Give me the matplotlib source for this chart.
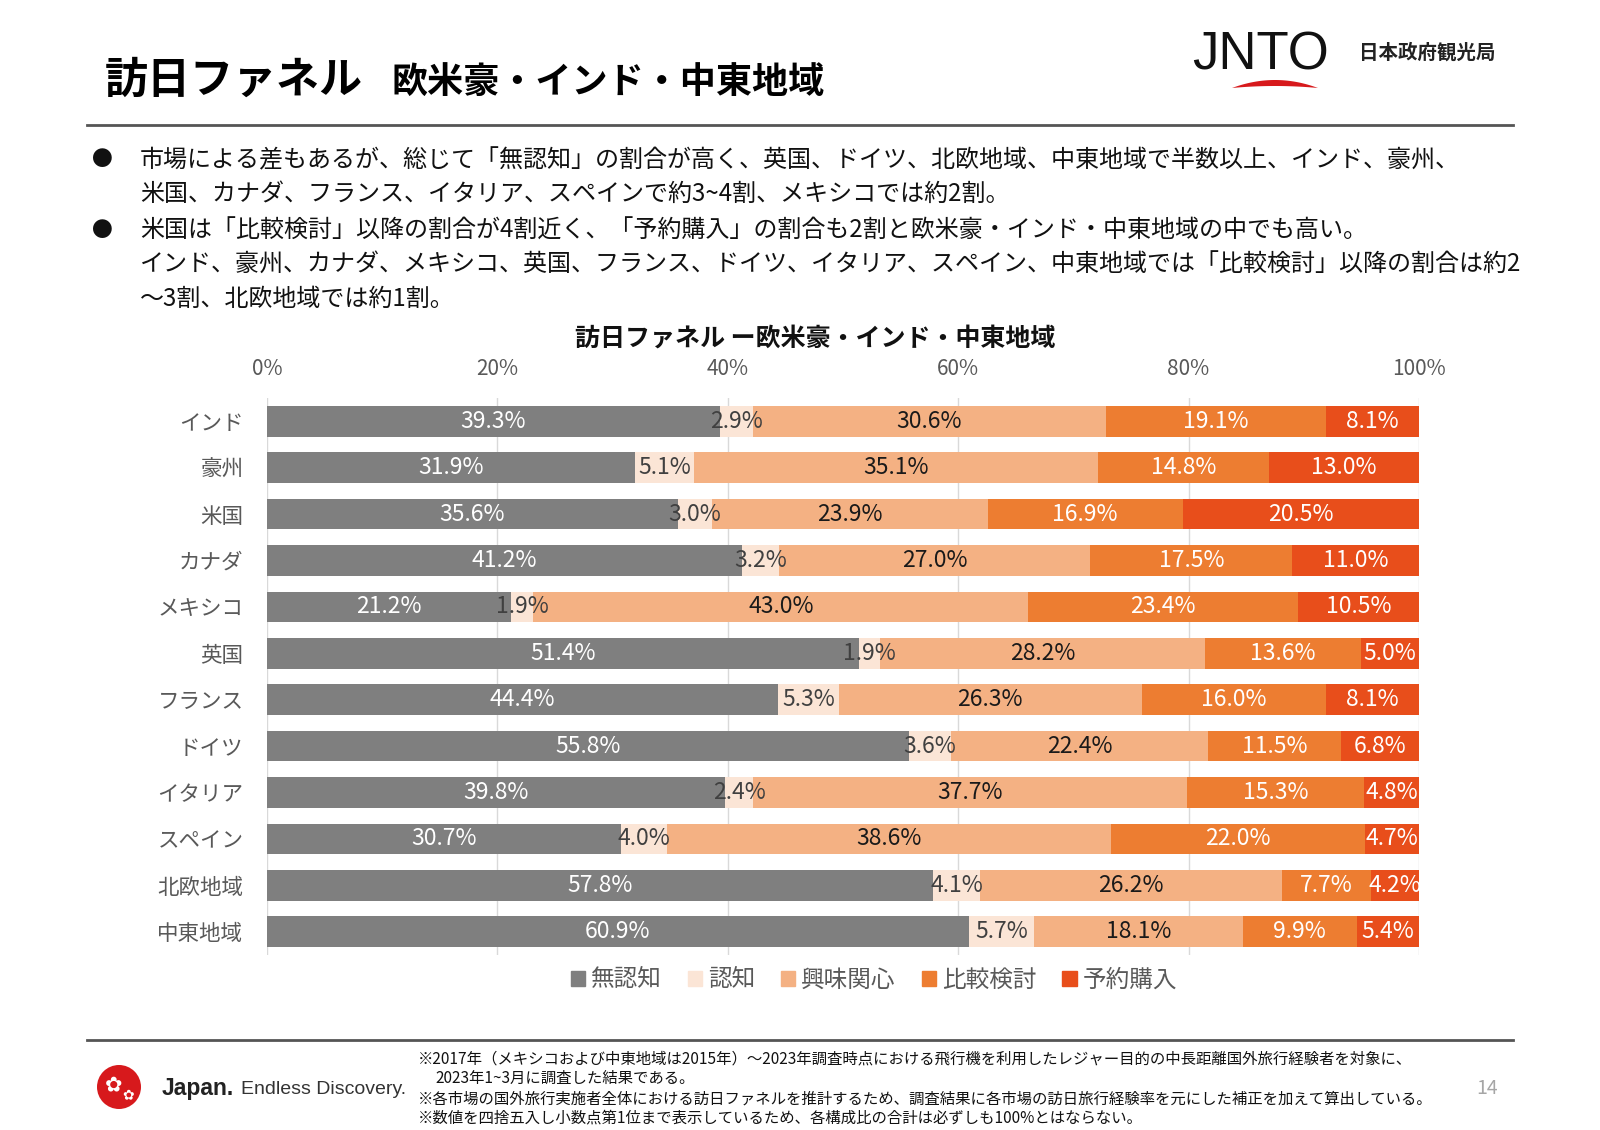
import numpy as np
import matplotlib
matplotlib.use("Agg")
import matplotlib.pyplot as plt
from matplotlib.patches import Circle, Polygon, Patch

plt.rcParams['font.family'] = ['Noto Sans CJK JP', 'DejaVu Sans']

# data
markets = ["インド", "豪州", "米国", "カナダ", "メキシコ", "英国",
           "フランス", "ドイツ", "イタリア", "スペイン", "北欧地域", "中東地域"]
stages = ["無認知", "認知", "興味関心", "比較検討", "予約購入"]

unaware    = [39.3, 31.9, 35.6, 41.2, 21.2, 51.4, 44.4, 55.8, 39.8, 30.7, 57.8, 60.9]
aware      = [2.9, 5.1, 3.0, 3.2, 1.9, 1.9, 5.3, 3.6, 2.4, 4.0, 4.1, 5.7]
interest   = [30.6, 35.1, 23.9, 27.0, 43.0, 28.2, 26.3, 22.4, 37.7, 38.6, 26.2, 18.1]
compare    = [19.1, 14.8, 16.9, 17.5, 23.4, 13.6, 16.0, 11.5, 15.3, 22.0, 7.7, 9.9]
booking    = [8.1, 13.0, 20.5, 11.0, 10.5, 5.0, 8.1, 6.8, 4.8, 4.7, 4.2, 5.4]

xticks = [0, 20, 40, 60, 80, 100]

colors = ["#7f7f7f", "#fbe5d6", "#f4b183", "#ed7d31", "#e84e1b"]
label_colors = ["white", "#404040", "#1a1a1a", "white", "white"]

series = np.array([unaware, aware, interest, compare, booking])
totals = series.sum(axis=0)
shares = series / totals * 100

W, H = 1600, 1130
fig = plt.figure(figsize=(16, 11.3), dpi=100)

# decoration layer in pixel coordinates
deco = fig.add_axes([0, 0, 1, 1], zorder=0)
deco.set_xlim(0, W); deco.set_ylim(H, 0); deco.axis("off")

deco.text(105, 80, "訪日ファネル", fontsize=31, fontweight="bold", va="center", ha="left")
deco.text(391, 82, "欧米豪・インド・中東地域", fontsize=26, fontweight="bold", va="center", ha="left")

# JNTO logo
deco.text(1192, 56, "JNTO", family="Liberation Sans", fontsize=38, va="center", ha="left", color="#111111")
t = np.linspace(-1, 1, 40)
top = np.column_stack([1232 + 43 * (t + 1), 88 - 8 * (1 - t ** 2)])
bot = np.column_stack([1232 + 43 * (t[::-1] + 1), 88 - 2 * (1 - t[::-1] ** 2)])
deco.add_patch(Polygon(np.vstack([top, bot]), closed=True, color="#d7191c", lw=0))
deco.text(1359, 53, "日本政府観光局", fontsize=14, fontweight="bold", va="center", ha="left", color="#222222")

deco.plot([87, 1513], [125, 125], color="#555555", lw=2)

# bullet text
bullets = [
    (160, True, "市場による差もあるが、総じて「無認知」の割合が高く、英国、ドイツ、北欧地域、中東地域で半数以上、インド、豪州、"),
    (194, False, "米国、カナダ、フランス、イタリア、スペインで約3~4割、メキシコでは約2割。"),
    (231, True, "米国は「比較検討」以降の割合が4割近く、「予約購入」の割合も2割と欧米豪・インド・中東地域の中でも高い。"),
    (265, False, "インド、豪州、カナダ、メキシコ、英国、フランス、ドイツ、イタリア、スペイン、中東地域では「比較検討」以降の割合は約2"),
    (299, False, "～3割、北欧地域では約1割。"),
]
for y, dot, line in bullets:
    if dot:
        deco.text(102, y, "●", fontsize=15, va="center", ha="center", color="#111111")
    deco.text(140, y, line, fontsize=17.3, va="center", ha="left", color="#111111")

deco.text(815, 339, "訪日ファネル ー欧米豪・インド・中東地域", fontsize=18, fontweight="bold",
          va="center", ha="center", color="#111111")

# footer
deco.plot([87, 1513], [1040, 1040], color="#555555", lw=2)
deco.add_patch(Circle((119, 1087), 22, color="#d7191c", lw=0))
deco.text(114, 1085, "✿", family="DejaVu Sans", fontsize=15, color="white", va="center", ha="center")
deco.text(128, 1095, "✿", family="DejaVu Sans", fontsize=10, color="white", va="center", ha="center")
deco.text(162, 1088, "Japan.", family="Liberation Sans", fontsize=16.5, fontweight="bold",
          va="center", ha="left", color="#222222")
deco.text(241, 1090, "Endless Discovery.", family="Liberation Sans", fontsize=14,
          va="center", ha="left", color="#333333")

notes = [
    (418, 1059, "※2017年（メキシコおよび中東地域は2015年）～2023年調査時点における飛行機を利用したレジャー目的の中長距離国外旅行経験者を対象に、"),
    (435, 1078, "2023年1~3月に調査した結果である。"),
    (418, 1099, "※各市場の国外旅行実施者全体における訪日ファネルを推計するため、調査結果に各市場の訪日旅行経験率を元にした補正を加えて算出している。"),
    (418, 1118, "※数値を四捨五入し小数点第1位まで表示しているため、各構成比の合計は必ずしも100%とはならない。"),
]
for x, y, s in notes:
    deco.text(x, y, s, fontsize=11.1, va="center", ha="left", color="#111111")
deco.text(1487, 1088, "14", fontsize=14, va="center", ha="center", color="#a6a6a6")

# chart
ax = fig.add_axes([267 / W, 1 - 955 / H, (1419 - 267) / W, (955 - 398) / H], zorder=1)
ax.set_facecolor("none")
y = np.arange(len(markets))
left = np.zeros(len(markets))
for i, stage in enumerate(stages):
    bars = ax.barh(y, shares[i], left=left, height=0.66, color=colors[i], label=stage, zorder=2)
    ax.bar_label(bars, labels=[f"{v:.1f}%" for v in series[i]], label_type="center",
                 fontsize=16.5, color=label_colors[i])
    left += shares[i]

ax.set_xlim(0, 100)
ax.set_ylim(len(markets) - 0.5, -0.5)
ax.set_xticks(xticks)
ax.set_xticklabels([f"{v}%" for v in xticks])
ax.xaxis.tick_top()
ax.tick_params(axis="x", length=0, pad=13, labelsize=15, labelcolor="#595959")
ax.set_yticks(y)
ax.set_yticklabels(markets)
ax.tick_params(axis="y", length=0, pad=17, labelsize=15.5, labelcolor="#595959")
ax.grid(axis="x", color="#d9d9d9", lw=1, zorder=0)
ax.set_axisbelow(True)
for s in ax.spines.values():
    s.set_visible(False)

handles = [Patch(color=c) for c in colors]
fig.legend(handles, stages, loc="center", bbox_to_anchor=(874 / W, 1 - 980 / H), ncol=5,
           frameon=False, fontsize=17, labelcolor="#595959", handlelength=0.6,
           handleheight=0.6, handletextpad=0.25, columnspacing=1.1)

fig.savefig("out.png", dpi=100, facecolor="white")
